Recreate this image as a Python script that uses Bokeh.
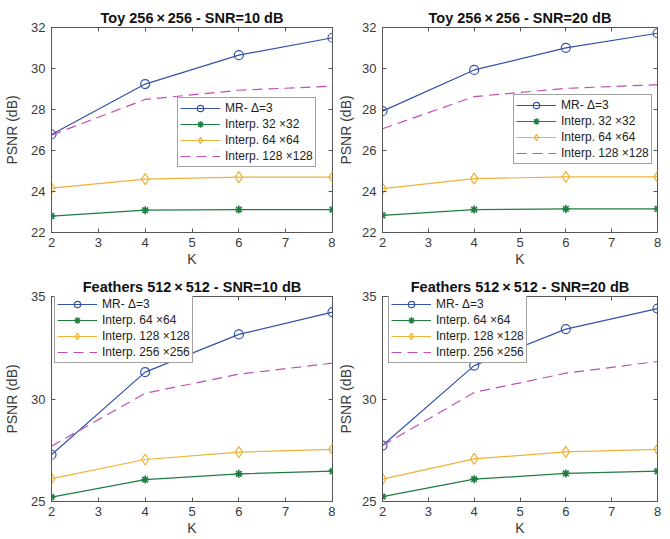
from bokeh.plotting import figure
from bokeh.layouts import gridplot
from bokeh.models import Range1d, LinearAxis, FixedTicker, Legend, LegendItem
from bokeh.embed import file_html
from bokeh.resources import INLINE

K = [2, 4, 6, 8]

# Toy 256x256 - SNR=10 dB
toy10_mr = [26.78, 29.24, 30.65, 31.50]
toy10_i32 = [22.80, 23.09, 23.12, 23.12]
toy10_i64 = [24.16, 24.60, 24.70, 24.70]
toy10_i128 = [26.75, 28.49, 28.94, 29.14]

# Toy 256x256 - SNR=20 dB
toy20_mr = [27.92, 29.93, 31.01, 31.72]
toy20_i32 = [22.84, 23.12, 23.15, 23.15]
toy20_i64 = [24.14, 24.63, 24.71, 24.71]
toy20_i128 = [27.06, 28.63, 29.03, 29.21]

# Feathers 512x512 - SNR=10 dB
fea10_mr = [27.28, 31.31, 33.15, 34.24]
fea10_i64 = [25.21, 26.07, 26.35, 26.48]
fea10_i128 = [26.12, 27.05, 27.41, 27.54]
fea10_i256 = [27.70, 30.28, 31.21, 31.75]

# Feathers 512x512 - SNR=20 dB
fea20_mr = [27.73, 31.63, 33.41, 34.41]
fea20_i64 = [25.24, 26.09, 26.37, 26.48]
fea20_i128 = [26.09, 27.08, 27.42, 27.54]
fea20_i256 = [27.73, 30.32, 31.26, 31.83]

toy_yticks = [22, 24, 26, 28, 30, 32]
fea_yticks = [25, 30, 35]
x_ticks = [2, 3, 4, 5, 6, 7, 8]

toy_labels = ["MR- \u0394=3", "Interp. 32 \u00d732", "Interp. 64 \u00d764", "Interp. 128 \u00d7128"]
fea_labels = ["MR- \u0394=3", "Interp. 64 \u00d764", "Interp. 128 \u00d7128", "Interp. 256 \u00d7256"]

BLUE = "#3452a8"
GREEN = "#1f7d40"
YELLOW = "#edb33a"
MAGENTA = "#c24db6"
FONT = "Liberation Sans"
AXC = "#555555"
TXC = "#3a3a3a"


def panel(title, series, labels, yr, yticks, legend_loc, w, h, bl, br, bt, bb, ylab_standoff):
    p = figure(width=w, height=h, x_range=Range1d(2, 8), y_range=Range1d(*yr),
               output_backend="svg", toolbar_location=None,
               min_border_left=bl, min_border_right=br, min_border_top=bt, min_border_bottom=bb)
    p.title.text = title
    p.title.text_font = FONT
    p.title.text_font_size = "14.5px"
    p.title.text_font_style = "bold"
    p.title.text_color = "#111111"
    p.title.align = "center"
    p.title.standoff = 3
    p.xgrid.visible = False
    p.ygrid.visible = False
    p.outline_line_color = AXC
    p.outline_line_alpha = 1.0

    for ax, ticks in ((p.xaxis[0], x_ticks), (p.yaxis[0], yticks)):
        ax.ticker = FixedTicker(ticks=ticks)
        ax.major_tick_in = 4
        ax.major_tick_out = 0
        ax.minor_tick_line_color = None
        ax.axis_line_color = AXC
        ax.major_tick_line_color = AXC
        ax.major_label_text_font = FONT
        ax.major_label_text_font_size = "13px"
        ax.major_label_text_color = TXC
        ax.axis_label_text_font = FONT
        ax.axis_label_text_font_size = "14px"
        ax.axis_label_text_font_style = "normal"
        ax.axis_label_text_color = TXC
    p.xaxis[0].axis_label = "K"
    p.xaxis[0].major_label_standoff = 5
    p.xaxis[0].axis_label_standoff = 1
    p.yaxis[0].axis_label = "PSNR (dB)"
    p.yaxis[0].major_label_standoff = 6
    p.yaxis[0].axis_label_standoff = ylab_standoff

    for loc, ticks in (("above", x_ticks), ("right", yticks)):
        a = LinearAxis(ticker=FixedTicker(ticks=ticks))
        a.major_tick_in = 4
        a.major_tick_out = 0
        a.minor_tick_line_color = None
        a.axis_line_color = None
        a.major_tick_line_color = AXC
        a.major_label_text_font_size = "1px"
        a.major_label_text_color = None
        a.major_label_standoff = 0
        p.add_layout(a, loc)

    mr, i1, i2, i3 = series
    items = []
    l0 = p.line(K, mr, line_color=BLUE, line_width=1.2)
    m0 = p.scatter(K, mr, marker="circle", size=9, line_color=BLUE, fill_color=None, line_width=1.2)
    items.append(LegendItem(label=labels[0], renderers=[l0, m0]))
    l1 = p.line(K, i1, line_color=GREEN, line_width=1.2)
    m1 = p.scatter(K, i1, marker="asterisk", size=8, line_color=GREEN, line_width=1.6)
    items.append(LegendItem(label=labels[1], renderers=[l1, m1]))
    l2 = p.line(K, i2, line_color=YELLOW, line_width=1.2)
    m2 = p.scatter(K, i2, marker="diamond", size=11, line_color=YELLOW, fill_color=None, line_width=1.2)
    items.append(LegendItem(label=labels[2], renderers=[l2, m2]))
    l3 = p.line(K, i3, line_color=MAGENTA, line_width=1.2, line_dash="10 6")
    items.append(LegendItem(label=labels[3], renderers=[l3]))

    lg = Legend(items=items, location=legend_loc)
    lg.label_text_font = FONT
    lg.label_text_font_size = "12px"
    lg.label_text_color = "#222222"
    lg.glyph_width = 40
    lg.glyph_height = 16
    lg.label_height = 14
    lg.spacing = 0
    lg.padding = 2
    lg.margin = 0
    lg.label_standoff = 5
    lg.border_line_color = "#444444"
    lg.border_line_width = 1
    lg.background_fill_color = "white"
    lg.background_fill_alpha = 1
    p.add_layout(lg, "center")
    return p


p1 = panel("Toy 256\u2009\u00d7\u2009256 - SNR=10 dB", (toy10_mr, toy10_i32, toy10_i64, toy10_i128), toy_labels,
           (22, 32), toy_yticks, (126, 65), 335, 271, 51, 3, 27, 39, 8)
p2 = panel("Toy 256\u2009\u00d7\u2009256 - SNR=20 dB", (toy20_mr, toy20_i32, toy20_i64, toy20_i128), toy_labels,
           (22, 32), toy_yticks, (131, 68), 333, 271, 42, 11, 27, 39, 5)
p3 = panel("Feathers 512\u2009\u00d7\u2009512 - SNR=10 dB", (fea10_mr, fea10_i64, fea10_i128, fea10_i256), fea_labels,
           (25, 35), fea_yticks, (3, 138), 335, 267, 51, 3, 25, 37, 8)
p4 = panel("Feathers 512\u2009\u00d7\u2009512 - SNR=20 dB", (fea20_mr, fea20_i64, fea20_i128, fea20_i256), fea_labels,
           (25, 35), fea_yticks, (6, 138), 333, 267, 42, 11, 25, 37, 5)

grid = gridplot([[p1, p2], [p3, p4]], toolbar_location=None)
open("out.html", "w").write(file_html(grid, INLINE))
